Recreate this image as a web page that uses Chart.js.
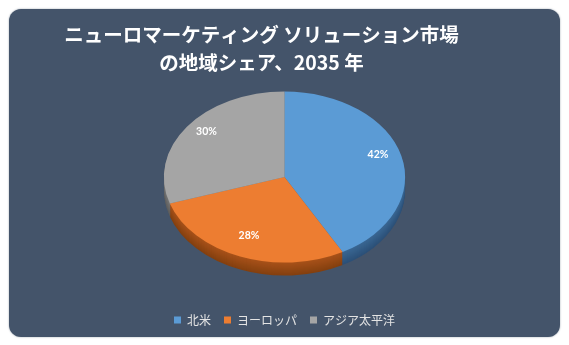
<!DOCTYPE html>
<html>
<head>
<meta charset="utf-8">
<script src="https://cdn.jsdelivr.net/npm/chart.js@4/dist/chart.umd.min.js"></script>
<style>
  html, body { margin: 0; padding: 0; background: #fff; }
  #card {
    position: absolute; left: 9px; top: 9px;
    width: 551px; height: 328px;
    background: #44546a; border-radius: 12px;
    box-shadow: 0 0 2px #9aa3ad;
    overflow: hidden;
  }
  canvas { display: block; }
</style>
</head>
<body>
<div id="card"><canvas id="chart" width="551" height="328"></canvas></div>
<script>
const regions = ['北米', 'ヨーロッパ', 'アジア太平洋'];
const shares = [42, 28, 30];
const sliceColors = ['#5b9bd5', '#ed7d31', '#a5a5a5'];
const sideColors = ['#3a6894', '#a9521a', '#767676'];
const sideDark = ['#2c5078', '#84400f', '#5c5c5c'];
const titleLines = ['ニューロマーケティング ソリューション市場', 'の地域シェア、2035 年'];

// fake 3d: stretch the pie sideways and stack a darker copy underneath
const stretchX = 1.41;
const depth = 13;
const labelAt = 0.8;

function mix(a, b, t) {
    const pa = parseInt(a.slice(1), 16), pb = parseInt(b.slice(1), 16);
    const ch = s => Math.round(((pa >> s) & 255) * (1 - t) + ((pb >> s) & 255) * t);
    return `rgb(${ch(16)},${ch(8)},${ch(0)})`;
}

const tilt3d = {
    id: 'tilt3d',
    afterLayout(chart) {
        // title sits a little left of centre in the original
        chart.titleBlock.right -= 46;
    },
    beforeDatasetsDraw(chart) {
        const ctx = chart.ctx;
        const arcs = chart.getDatasetMeta(0).data;
        const cx = arcs[0].x;
        ctx.save();
        ctx.translate(cx, 0);
        ctx.scale(stretchX, 1);
        ctx.translate(-cx, 0);
        for (let d = depth; d > 0; d--) {
            arcs.forEach((arc, i) => {
                const ghost = Object.create(arc);
                ghost.options = Object.assign({}, arc.options, {
                    backgroundColor: mix(sideColors[i], sideDark[i], d / depth),
                });
                ctx.save();
                ctx.translate(0, d);
                ghost.draw(ctx);
                ctx.restore();
            });
        }
    },
    afterDatasetsDraw(chart) {
        const ctx = chart.ctx;
        ctx.restore();
        const arcs = chart.getDatasetMeta(0).data;
        ctx.save();
        ctx.fillStyle = '#ffffff';
        ctx.font = "bold 10.5px Lato, 'Open Sans', sans-serif";
        ctx.textAlign = 'center';
        ctx.textBaseline = 'middle';
        arcs.forEach((arc, i) => {
            const mid = (arc.startAngle + arc.endAngle) / 2;
            const r = arc.outerRadius * labelAt;
            ctx.fillText(shares[i] + '%', arc.x + Math.cos(mid) * r * stretchX, arc.y + Math.sin(mid) * r - 5);
        });
        ctx.restore();
    }
};

new Chart(document.getElementById('chart'), {
    type: 'pie',
    data: {
        labels: regions,
        datasets: [{
            data: shares,
            backgroundColor: sliceColors,
            borderWidth: 0,
        }],
    },
    options: {
        responsive: false,
        animation: false,
        events: [],
        layout: {padding: {bottom: 1}},
        plugins: {
            title: {
                display: true,
                text: titleLines,
                color: '#ffffff',
                font: {family: "'Noto Sans CJK JP'", size: 19.5, weight: 'bold', lineHeight: 1.45},
                padding: {top: 11, bottom: 15},
            },
            legend: {
                position: 'bottom',
                title: {display: true, text: ' ', font: {size: 12}, padding: {top: 0, bottom: 24}},
                labels: {
                    color: '#e4e4e4',
                    boxWidth: 7,
                    boxHeight: 7,
                    padding: 13,
                    font: {family: "'Noto Sans CJK JP'", size: 12},
                },
            },
            tooltip: {enabled: false},
        },
    },
    plugins: [tilt3d],
});
</script>
</body>
</html>
